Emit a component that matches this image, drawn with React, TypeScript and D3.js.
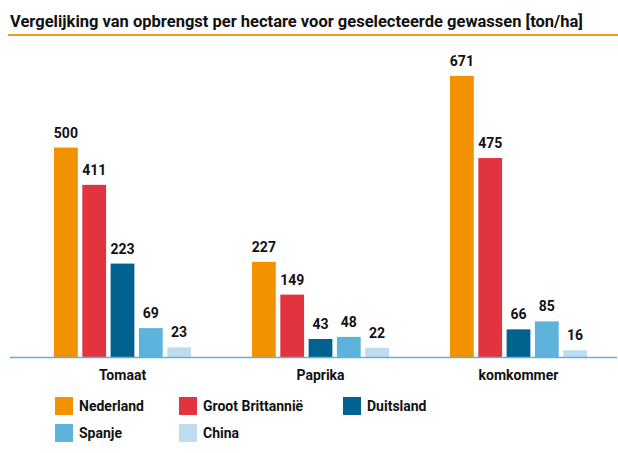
import React, { useRef, useEffect } from 'react';
import * as d3 from 'd3';

const categories = ['Tomaat', 'Paprika', 'komkommer'];
const countries = ['Nederland', 'Groot Brittannië', 'Duitsland', 'Spanje', 'China'];
const colors = ['#f39200', '#e1343f', '#00628f', '#5eb3dc', '#bedcf0'];
const nederland = [500, 227, 671];
const grootBrittannie = [411, 149, 475];
const duitsland = [223, 43, 66];
const spanje = [69, 48, 85];
const china = [23, 22, 16];

const series = [nederland, grootBrittannie, duitsland, spanje, china];

const W = 618;
const H = 453;
const FONT = 'Roboto, "Liberation Sans", sans-serif';

export default function App() {
  const ref = useRef<SVGSVGElement>(null);

  useEffect(() => {
    const svg = d3.select(ref.current);
    svg.selectAll('*').remove();

    // titel
    svg.append('text')
      .attr('x', 10)
      .attr('y', 27)
      .attr('font-family', FONT)
      .attr('font-weight', 'bold')
      .attr('font-size', 16.5)
      .attr('fill', '#111')
      .text('Vergelijking van opbrengst per hectare voor geselecteerde gewassen [ton/ha]');

    svg.append('line')
      .attr('x1', 8).attr('x2', W)
      .attr('y1', 35).attr('y2', 35)
      .attr('stroke', '#f39d1e')
      .attr('stroke-width', 2);

    const baseY = 357;
    const y = d3.scaleLinear().domain([0, 700]).range([baseY, baseY - 293.2]);

    const x0 = d3.scaleBand<string>().domain(categories).range([23.5, 617.5]);
    const x1 = d3.scaleBand<string>()
      .domain(countries)
      .range([30.5, 30.5 + 137])
      .paddingInner(0.16);

    const groups = svg.selectAll('g.cat')
      .data(categories)
      .enter()
      .append('g')
      .attr('class', 'cat')
      .attr('transform', d => `translate(${x0(d)},0)`);

    groups.each(function (cat, ci) {
      const g = d3.select(this);
      countries.forEach((c, si) => {
        const v = series[si][ci];
        g.append('rect')
          .attr('x', x1(c)!)
          .attr('y', y(v))
          .attr('width', x1.bandwidth())
          .attr('height', baseY - y(v))
          .attr('fill', colors[si]);
        g.append('text')
          .attr('x', x1(c)! + x1.bandwidth() / 2)
          .attr('y', y(v) - 10)
          .attr('text-anchor', 'middle')
          .attr('font-family', FONT)
          .attr('font-weight', 'bold')
          .attr('font-size', 14)
          .attr('fill', '#111')
          .text(v);
      });
      g.append('text')
        .attr('x', x0.bandwidth() / 2)
        .attr('y', 380)
        .attr('text-anchor', 'middle')
        .attr('font-family', FONT)
        .attr('font-weight', 'bold')
        .attr('font-size', 14)
        .attr('fill', '#111')
        .text(cat);
    });

    // basislijn
    svg.append('line')
      .attr('x1', 10).attr('x2', 617)
      .attr('y1', baseY + 0.5).attr('y2', baseY + 0.5)
      .attr('stroke', '#5eb3dc')
      .attr('stroke-width', 1.5);

    // legenda
    const legX = [55, 179, 343];
    const legY = [397, 424];
    const leg = svg.selectAll('g.leg')
      .data(countries)
      .enter()
      .append('g')
      .attr('class', 'leg')
      .attr('transform', (d, i) => `translate(${legX[i % 3]},${legY[Math.floor(i / 3)]})`);
    leg.append('rect')
      .attr('width', 18)
      .attr('height', 18)
      .attr('fill', (d, i) => colors[i]);
    leg.append('text')
      .attr('x', 24)
      .attr('y', 14)
      .attr('font-family', FONT)
      .attr('font-weight', 'bold')
      .attr('font-size', 14)
      .attr('fill', '#111')
      .text(d => d);
  }, []);

  return (
    <svg ref={ref} width={W} height={H} style={{ position: 'absolute', left: 0, top: 0, background: '#fff' }} />
  );
}
